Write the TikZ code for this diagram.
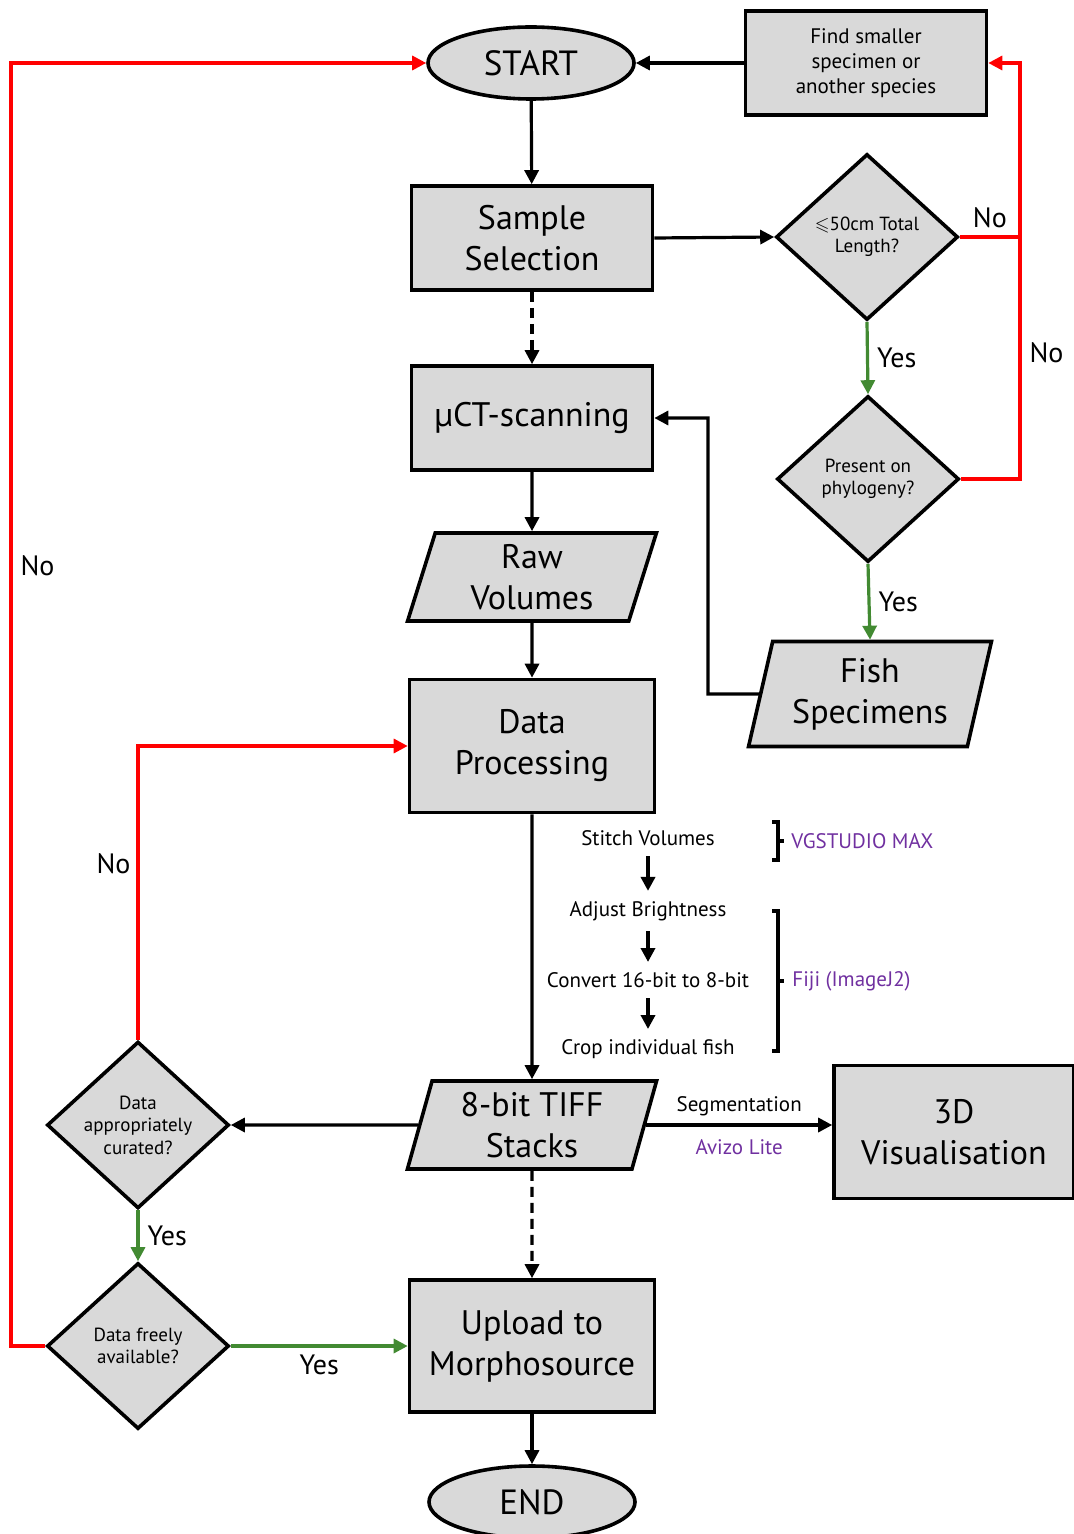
\documentclass[tikz,border=0pt]{standalone}
\usepackage{amssymb}
\usepackage{fontspec}
\setmainfont{PT Sans}
\usetikzlibrary{shapes.geometric, arrows.meta, positioning}

\definecolor{boxgray}{RGB}{217,217,217}
\definecolor{nored}{RGB}{255,0,0}
\definecolor{yesgreen}{RGB}{66,138,50}
\definecolor{toolpurple}{RGB}{112,48,160}

\tikzset{
  shapebase/.style={draw, line width=1.8pt, fill=boxgray, align=center, inner sep=0pt,
    font=\fontsize{17}{20.5}\selectfont},
  proc/.style={shapebase, rectangle, minimum width=120.5pt, minimum height=52pt},
  term/.style={shapebase, ellipse, minimum width=103pt, minimum height=36pt,
    font=\fontsize{17.5}{20.5}\selectfont},
  io/.style={shapebase, trapezium, trapezium left angle=75, trapezium right angle=105,
    trapezium stretches=true, minimum width=125pt, minimum height=44pt},
  decision/.style={shapebase, diamond, minimum width=91pt, minimum height=83pt,
    font=\fontsize{9.5}{11.25}\selectfont},
  flow/.style={-{Triangle[length=7pt,width=7pt]}, line width=1.6pt},
  yes/.style={flow, draw=yesgreen},
  no/.style={flow, draw=nored},
  lbl/.style={font=\fontsize{14}{16}\selectfont, inner sep=2pt},
  stepnode/.style={font=\fontsize{10.5}{12}\selectfont, inner sep=0pt},
  stepflow/.style={flow, line width=2pt, shorten <=5pt, shorten >=5pt},
  tool/.style={font=\fontsize{10.5}{12}\selectfont, text=toolpurple, inner sep=0pt},
  brk/.style={line width=2pt},
}

\begin{document}
\begin{tikzpicture}[x=0.5pt, y=-0.5pt]
  \useasboundingbox (0,0) rectangle (1073,1534);

  % main column
  \node[term] (start) at (531,63) {START};
  \node[proc] (sample) at (532,238) {Sample\\Selection};
  \node[proc] (scan) at (532,418) {µCT-scanning};
  \node[io] (raw) at (532,577) {Raw\\Volumes};
  \node[proc, minimum width=122.5pt, minimum height=66.5pt] (dproc) at (532,746) {Data\\Processing};
  \node[io] (tiff) at (532,1125) {8-bit TIFF\\Stacks};
  \node[proc, minimum width=122.5pt, minimum height=66pt] (upload) at (532,1346) {Upload to\\Morphosource};
  \node[term] (end) at (532,1502) {END};

  % right column
  \node[proc, font=\fontsize{10.5}{12.5}\selectfont] (find) at (866,63) {Find smaller\\specimen or\\another species};
  \node[decision] (len) at (867,237) {$\leqslant$50cm Total\\Length?};
  \node[decision] (phylo) at (868,479) {Present on\\phylogeny?};
  \node[io, minimum width=121.5pt, minimum height=52.5pt] (fish) at (870,694) {Fish\\Specimens};
  \node[proc, minimum width=120pt, minimum height=66.5pt] (vis) at (954,1132) {3D\\Visualisation};

  % left column
  \node[decision] (curated) at (138,1125) {Data\\appropriately\\curated?};
  \node[decision] (avail) at (138,1346) {Data freely\\available?};

  % processing steps
  \node[stepnode] (s1) at (648,838) {Stitch Volumes};
  \node[stepnode] (s2) at (648,911) {Adjust Brightness};
  \node[stepnode] (s3) at (648,980) {Convert 16-bit to 8-bit};
  \node[stepnode] (s4) at (648,1049) {Crop individual fish};
  \node[tool, anchor=west] (vg) at (791,841) {VGSTUDIO MAX};
  \node[tool, anchor=west] (fiji) at (792,981) {Fiji (ImageJ2)};
  \draw[brk] (772,822) -| (778,860) -- (772,860) (778,841) -- (784,841);
  \draw[brk] (772,911) -| (778,1051) -- (772,1051) (778,981) -- (784,981);
  \draw[stepflow] (s1) -- (s2);
  \draw[stepflow] (s2) -- (s3);
  \draw[stepflow] (s3) -- (s4);

  \coordinate (rj) at (1020,237);
  \coordinate (fj) at (708,694);
  \coordinate (lj) at (11,63);

  \draw[flow] (find.west) -- (start.east);
  \draw[flow] (start) -- (sample);
  \draw[flow] (sample.east) -- (len.west);
  \draw[flow, dash pattern=on 5pt off 3pt] (sample) -- (scan);
  \draw[no] (len.east) -- node[lbl, above=2pt] {No} (rj) |- (find.east);
  \draw[no, -] (phylo.east) -| node[lbl, right=2pt, pos=0.76] {No} (rj);
  \draw[yes] (len.south) -- node[lbl, right=2pt] {Yes} (phylo.north);
  \draw[yes] (phylo.south) -- node[lbl, right=2pt] {Yes} (fish.north);
  \draw[flow] (fish.west) -- (fj) |- (scan.east);
  \draw[flow] (scan) -- (raw);
  \draw[flow] (raw) -- (dproc);
  \draw[flow] (dproc) -- (tiff);
  \draw[flow] (tiff.west) -- (curated.east);
  \draw[flow] (tiff.east) -- node[stepnode, above=3.5pt] {Segmentation}
    node[tool, below=6.5pt] {Avizo Lite} (tiff.east -| vis.west);
  \draw[no] (curated.north) |- node[lbl, left=1pt, pos=0.3] {No} (dproc.west);
  \draw[yes] (curated.south) -- node[lbl, right=2pt] {Yes} (avail.north);
  \draw[yes] (avail.east) -- node[lbl, below=1.5pt] {Yes} (upload.west);
  \draw[no] (avail.west) -| node[lbl, right=2pt, pos=0.804] {No} (lj) -- (start.west);
  \draw[flow, dash pattern=on 5pt off 3pt] (tiff) -- (upload);
  \draw[flow] (upload) -- (end);
\end{tikzpicture}
\end{document}
